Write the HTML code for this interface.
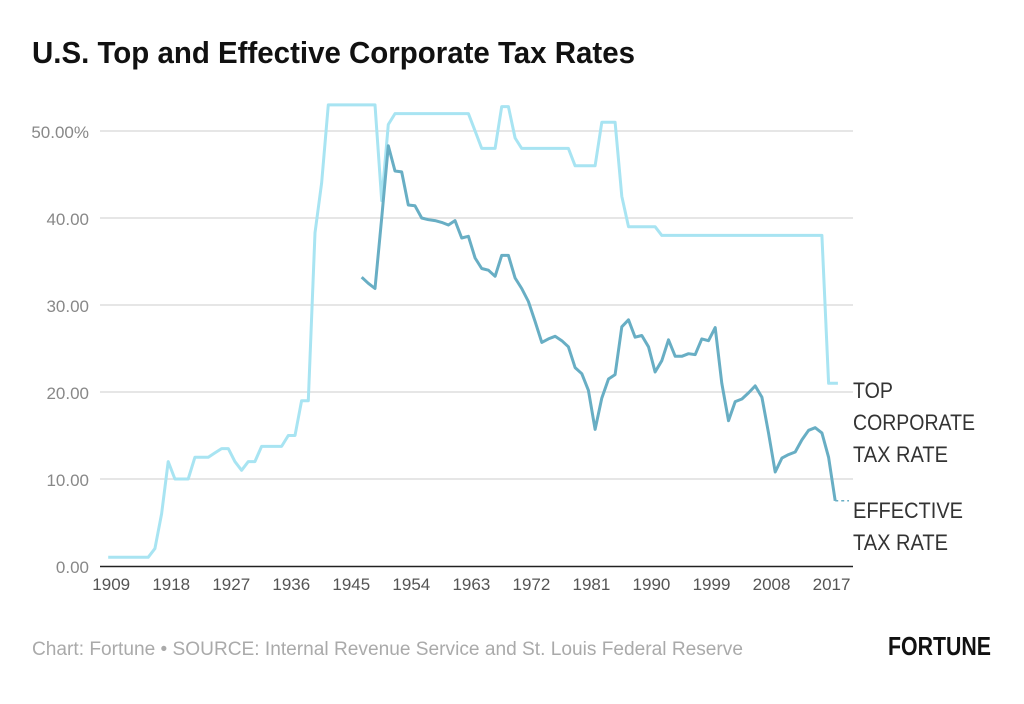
<!DOCTYPE html>
<html><head><meta charset="utf-8"><style>
body{margin:0;background:#fff;}
svg{display:block;font-family:"Liberation Sans",sans-serif;}
</style></head><body>
<svg id="chart" width="1024" height="704" viewBox="0 0 1024 704">
<rect width="1024" height="704" fill="#fff"/>
<text x="32" y="63" font-size="31" font-weight="bold" fill="#111" textLength="603" lengthAdjust="spacingAndGlyphs">U.S. Top and Effective Corporate Tax Rates</text>
<g id="grid"></g>
<g id="lines"></g>
<g font-size="22" fill="#333">
<text x="853" y="398" textLength="40" lengthAdjust="spacingAndGlyphs">TOP</text>
<text x="853" y="430" textLength="122" lengthAdjust="spacingAndGlyphs">CORPORATE</text>
<text x="853" y="462" textLength="95" lengthAdjust="spacingAndGlyphs">TAX RATE</text>
<text x="853" y="518" textLength="110" lengthAdjust="spacingAndGlyphs">EFFECTIVE</text>
<text x="853" y="550" textLength="95" lengthAdjust="spacingAndGlyphs">TAX RATE</text>
</g>
<text x="32" y="655" font-size="19" fill="#aaa" textLength="711" lengthAdjust="spacingAndGlyphs">Chart: Fortune • SOURCE: Internal Revenue Service and St. Louis Federal Reserve</text>
<text x="888" y="655" font-size="26" font-weight="bold" fill="#111" textLength="103" lengthAdjust="spacingAndGlyphs">FORTUNE</text>
</svg>
<script>
const topYears = [1909,1910,1911,1912,1913,1914,1915,1916,1917,1918,1919,1920,1921,1922,1923,1924,1925,1926,1927,1928,1929,1930,1931,1932,1933,1934,1935,1936,1937,1938,1939,1940,1941,1942,1949,1950,1951,1952,1963,1964,1965,1966,1967,1968,1969,1970,1971,1978,1979,1982,1983,1985,1986,1987,1991,1992,2016,2017,2018.4];
const topValues = [1,1,1,1,1,1,1,2,6,12,10,10,10,12.5,12.5,12.5,13,13.5,13.5,12,11,12,12,13.75,13.75,13.75,13.75,15,15,19,19,38.3,44,53,53,42,50.75,52,52,50,48,48,48,52.8,52.8,49.2,48,48,46,46,51,51,42.5,39,39,38,38,21,21];
const effYears = [];
for (let y = 1947; y <= 2018; y++) effYears.push(y);
const effValues = [33.2,32.5,31.9,40,48.3,45.4,45.3,41.5,41.4,40,39.8,39.7,39.5,39.2,39.7,37.7,37.9,35.4,34.2,34,33.3,35.7,35.7,33.1,31.9,30.4,28.1,25.7,26.1,26.4,25.9,25.2,22.8,22.1,20.2,15.7,19.3,21.5,22,27.5,28.3,26.3,26.5,25.2,22.3,23.6,26,24.1,24.1,24.4,24.3,26.1,25.9,27.4,21,16.7,18.9,19.2,19.9,20.7,19.4,15.3,10.8,12.4,12.8,13.1,14.5,15.6,15.9,15.3,12.5,7.5];
const yTicks = [0,10,20,30,40,50];
const yTickLabels = ["0.00","10.00","20.00","30.00","40.00","50.00%"];
const xTicks = [1909,1918,1927,1936,1945,1954,1963,1972,1981,1990,1999,2008,2017];

const NS = "http://www.w3.org/2000/svg";
const xs = yr => 108.2 + (yr - 1909) * 6.67;
const ys = v => 566 - v * 8.7;
const grid = document.getElementById('grid');
const lines = document.getElementById('lines');
function mk(tag, attrs, parent) {
  const e = document.createElementNS(NS, tag);
  for (const k in attrs) e.setAttribute(k, attrs[k]);
  parent.appendChild(e);
  return e;
}
yTicks.forEach((t, i) => {
  if (t > 0) {
    const l = mk('line', {x1: 100, x2: 853, y1: ys(t), y2: ys(t), stroke: '#d6d6d6', 'stroke-width': 1.2}, grid);
    
    
  }
  const tx = mk('text', {x: 89, y: ys(t) + 7, 'text-anchor': 'end', 'font-size': 17, fill: '#888'}, grid);
  tx.textContent = yTickLabels[i];
  
  
});
xTicks.forEach(t => {
  const tx = mk('text', {x: xs(t) + 3, y: 590, 'text-anchor': 'middle', 'font-size': 17, fill: '#555'}, grid);
  tx.textContent = t;
  
  
});
const ax = mk('line', {x1: 100, x2: 853, y1: 566.5, y2: 566.5, stroke: '#222', 'stroke-width': 1.6}, grid);



const topPts = topYears.map((y, i) => xs(y).toFixed(1) + ',' + ys(topValues[i]).toFixed(1)).join(' ');
const topLine = mk('polyline', {points: topPts, fill: 'none', stroke: '#a8e4f2', 'stroke-width': 3, 'stroke-linejoin': 'round'}, lines);



const effPts = effYears.map((y, i) => xs(y).toFixed(1) + ',' + ys(effValues[i]).toFixed(1)).join(' ');
const effLine = mk('polyline', {points: effPts, fill: 'none', stroke: '#68aec4', 'stroke-width': 3, 'stroke-linejoin': 'round'}, lines);



const lastY = effYears[effYears.length - 1], lastV = effValues[effValues.length - 1];
const dot = mk('line', {x1: xs(lastY), x2: 849, y1: ys(lastV), y2: ys(lastV), stroke: '#68aec4', 'stroke-width': 1.5, 'stroke-dasharray': '3,3'}, lines);


</script>
</body></html>
